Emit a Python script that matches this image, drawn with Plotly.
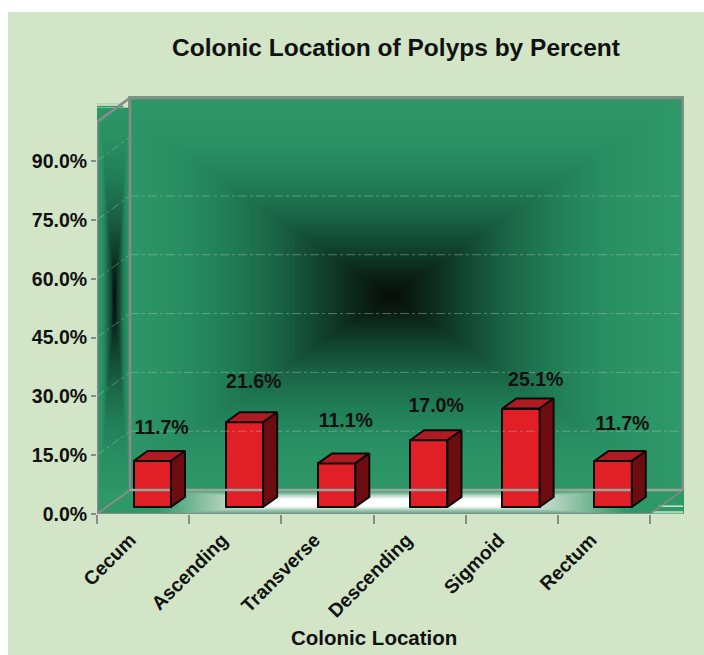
import numpy as np
import plotly.graph_objects as go

# ---- data ----
categories = ["Cecum", "Ascending", "Transverse", "Descending", "Sigmoid", "Rectum"]
percent = [11.7, 21.6, 11.1, 17.0, 25.1, 11.7]
y_ticks = [0, 15, 30, 45, 60, 75, 90]

# ---- style / layout constants (data units of the axes) ----
FONT = "Liberation Sans"
PANEL = "#d2e5c6"
GRAY = "#8a8a8a"
WALL_DX, WALL_DY = 0.358, 6.12      # depth of the chart box
BAR_SHIFT, BAR_W, BAR_BASE = 0.6, 0.405, 1.8
BAR_DX, BAR_DY = 0.152, 2.55        # depth of a bar
LABEL_DX = [0.10, 0.10, 0.10, 0.08, 0.16, 0.10]
LABEL_DY = [8.2, 10.0, 10.5, 8.4, 6.9, 9.2]
N = len(categories)
XMAX, YMAX, YTOP = 6.369, 106.6, 100

fig = go.Figure()

wall_scale = [[0, "#060c09"], [.12, "#0c261b"], [.25, "#114530"], [.4, "#1a6547"],
              [.55, "#207c55"], [.75, "#299064"], [1, "#2f9868"]]

def pyramid(x, y, cx, cy, hx, hy):
    X, Y = np.meshgrid(x, y)
    return np.clip(np.maximum(np.abs(X - cx) / hx, np.abs(Y - cy) / hy), 0, 1)

# side wall
sx = np.linspace(0, WALL_DX, 30)
sy = np.linspace(WALL_DY, 103, 80)
fig.add_trace(go.Heatmap(x=sx, y=sy, z=pyramid(sx, sy, WALL_DX * .52, 55, WALL_DX * .5, 55),
                         colorscale=wall_scale, zmin=0, zmax=1, showscale=False,
                         zsmooth="best", hoverinfo="skip"))
# back wall
bx = np.linspace(WALL_DX, N + WALL_DX, 160)
by = np.linspace(WALL_DY, YTOP + WALL_DY, 120)
fig.add_trace(go.Heatmap(x=bx, y=by, z=pyramid(bx, by, 3.18, 55.9, 3.15, 50.5),
                         colorscale=wall_scale, zmin=0, zmax=1, showscale=False,
                         zsmooth="best", hoverinfo="skip"))
# floor
fx = np.linspace(0, N + WALL_DX, 160)
fy = np.linspace(0, WALL_DY, 30)
FX, FY = np.meshgrid(fx, fy)
U = np.abs(FX - 3.18) / 3.18
V = np.abs(FY - WALL_DY * .5) / (WALL_DY * .5)
floor = np.minimum(np.clip((.80 - U) / .42, 0, 1), np.clip((1 - V) / .7, 0, 1))
fig.add_trace(go.Heatmap(x=fx, y=fy, z=floor, zmin=0, zmax=1, showscale=False, zsmooth="best",
                         colorscale=[[0, "#2f9868"], [.5, "#a5ccb5"], [1, "#ffffff"]],
                         hoverinfo="skip"))

def line(xs, ys, color=GRAY, width=2.5, dash="solid"):
    fig.add_trace(go.Scatter(x=xs, y=ys, mode="lines", showlegend=False, hoverinfo="skip",
                             line=dict(color=color, width=width, dash=dash)))

# corner stripes
for yy, col, w in [(104.6, "#9fd0ad", 1), (103.9, "#2f9868", 1.5), (103.2, "#2f9868", 1.5)]:
    line([0, WALL_DX * .8], [yy, yy], col, w)
for yy, xs0 in [(2.0, 6.1), (0.5, 6.02)]:
    line([xs0, N + WALL_DX], [yy, yy], "#cfe6cf", 1.5)

# grid
GRID = "rgba(190,205,195,.4)"
for v in y_ticks[1:]:
    line([0, WALL_DX], [v, v + WALL_DY], GRID, 1, "dashdot")
    if v < 90:
        line([WALL_DX, N + WALL_DX], [v + WALL_DY, v + WALL_DY], GRID, 1, "dashdot")

# box edges
line([WALL_DX, WALL_DX, N + WALL_DX, N + WALL_DX],
     [WALL_DY, YTOP + WALL_DY, YTOP + WALL_DY, WALL_DY])
line([WALL_DX, N + WALL_DX], [WALL_DY, WALL_DY], "#9aa59c", 2.5)
line([0, 0, WALL_DX], [0, YTOP, YTOP + WALL_DY])
line([0, WALL_DX], [0, WALL_DY], GRAY, 2)
line([N, N + WALL_DX], [0, WALL_DY], GRAY, 1.5)
line([0, N], [0, 0], GRAY, 2)

# bars
bar_x = [i + BAR_SHIFT for i in range(N)]
fig.add_trace(go.Bar(x=bar_x, y=percent, base=BAR_BASE, width=BAR_W, showlegend=False,
                     marker=dict(color="#e11f27", line=dict(color="#0a0a0a", width=2)),
                     hoverinfo="skip"))
for cx, val in zip(bar_x, percent):
    l, r = cx - BAR_W / 2, cx + BAR_W / 2
    top = BAR_BASE + val
    fig.add_trace(go.Scatter(x=[l, r, r + BAR_DX, l + BAR_DX, l],
                             y=[top, top, top + BAR_DY, top + BAR_DY, top],
                             mode="lines", fill="toself", fillcolor="#ad1c22",
                             line=dict(color="#0a0a0a", width=2), showlegend=False, hoverinfo="skip"))
    fig.add_trace(go.Scatter(x=[r, r + BAR_DX, r + BAR_DX, r, r],
                             y=[BAR_BASE, BAR_BASE + BAR_DY, top + BAR_DY, top, BAR_BASE],
                             mode="lines", fill="toself", fillcolor="#6d0d10",
                             line=dict(color="#0a0a0a", width=2), showlegend=False, hoverinfo="skip"))

# value labels
fig.add_trace(go.Scatter(
    x=[c + d for c, d in zip(bar_x, LABEL_DX)],
    y=[BAR_BASE + v + d for v, d in zip(percent, LABEL_DY)],
    text=[f"{v:.1f}%" for v in percent], mode="text", showlegend=False, hoverinfo="skip",
    textposition="middle center",
    textfont=dict(family=FONT, size=19.5, color="#111111", weight="bold")))

fig.update_layout(
    width=704, height=655,
    margin=dict(l=97, r=20, t=96, b=141, autoexpand=False),
    paper_bgcolor="white", plot_bgcolor="rgba(0,0,0,0)",
    showlegend=False, bargap=0,
    font=dict(family=FONT, color="#111111"),
    title=dict(text="<b>Colonic Location of Polyps by Percent</b>", x=396 / 704, xanchor="center",
               y=1 - 47 / 655, yanchor="middle", font=dict(size=24.5, family=FONT, color="#111111")),
    xaxis=dict(range=[0, XMAX], tickmode="array", tickvals=[i + .36 for i in range(N)],
               ticktext=[f"<b>{c}</b>" for c in categories], tickangle=-45, ticks="",
               tickfont=dict(size=19.3, family=FONT, color="#111111"),
               showgrid=False, zeroline=False, showline=False, ticklabelstandoff=10,
               minor=dict(tickmode="array", tickvals=list(range(N + 1)), ticks="outside",
                          ticklen=9, tickcolor=GRAY, tickwidth=1.5, showgrid=False)),
    yaxis=dict(range=[0, YMAX], tickmode="array", tickvals=y_ticks,
               ticktext=[f"<b>{t:.1f}%</b>" for t in y_ticks], ticks="outside", ticklen=5,
               tickcolor=GRAY, tickwidth=1.5, showgrid=False, zeroline=False, showline=False,
               tickfont=dict(size=19.5, family=FONT, color="#111111")),
    annotations=[dict(text="<b>Colonic Location</b>", xref="paper", yref="paper", showarrow=False,
                      x=(374 - 97) / 587, y=-(637 - 514) / 418, xanchor="center", yanchor="middle",
                      font=dict(size=20.5, family=FONT, color="#111111"))],
    shapes=[dict(type="rect", xref="paper", yref="paper", layer="below", line=dict(width=0),
                 fillcolor=PANEL, x0=(8 - 97) / 587, x1=(704 - 97) / 587,
                 y0=-141 / 418, y1=(655 - 12 - 141) / 418)],
)
fig.write_html("out.html", config=dict(displayModeBar=False),
               post_script="document.body.style.margin='0';")
